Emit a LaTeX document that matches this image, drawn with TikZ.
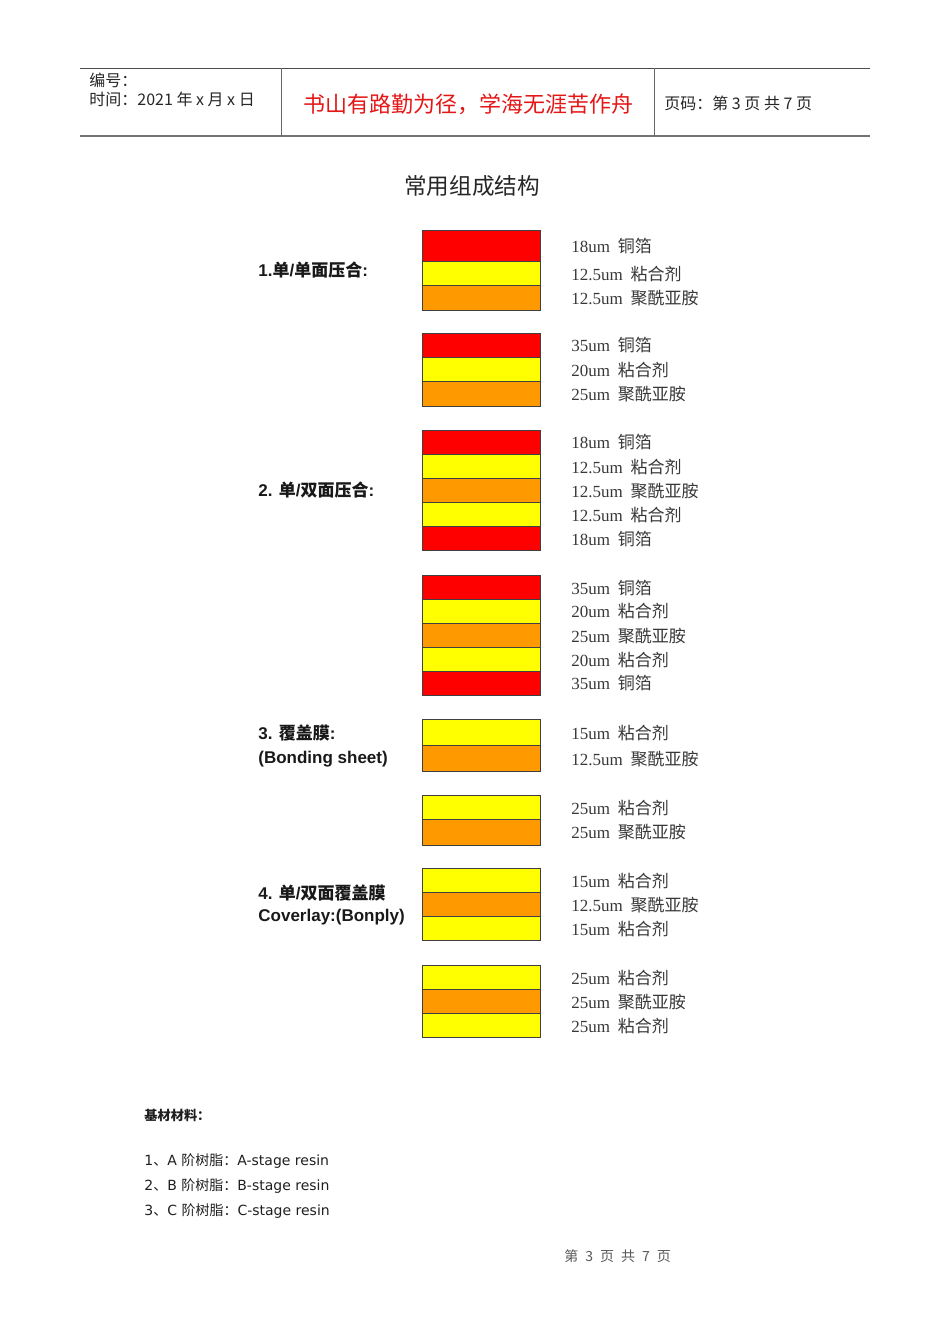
\documentclass[tikz,border=0pt]{standalone}
\usepackage{fontspec}
\setmainfont{DejaVu Sans}
\newfontfamily\cjk{Noto Sans CJK SC}
\newfontfamily\numfont{Liberation Serif}
\newfontfamily\arialfont{Liberation Sans}
\definecolor{cured}{RGB}{255,0,0}
\definecolor{glueyel}{RGB}{255,255,0}
\definecolor{filmorg}{RGB}{255,153,0}
\definecolor{hdred}{RGB}{228,22,22}
\newcommand{\hz}[1]{{\cjk #1}}
\newcommand{\lay}[2]{{\numfont #1}\hspace{0.45em}{\cjk #2}}
\newcommand{\gap}{\hspace{0.5em}}
\tikzset{
  copper/.style={draw=black!75,fill=cured,line width=0.4pt},
  glue/.style={draw=black!75,fill=glueyel,line width=0.4pt},
  film/.style={draw=black!75,fill=filmorg,line width=0.4pt},
  layertext/.style={anchor=west,inner sep=0pt,text=black!78,font=\fontsize{8.5}{10}\selectfont},
  grouptext/.style={anchor=west,inner sep=0pt,text=black!90,font=\arialfont\bfseries\fontsize{8.5}{10}\selectfont},
  headtext/.style={anchor=west,inner sep=0pt,text=black!85,font=\cjk\fontsize{8}{9}\selectfont},
  listtext/.style={anchor=west,inner sep=0pt,text=black!88,font=\fontsize{7}{8}\selectfont}
}
\begin{document}
\begin{tikzpicture}[x=0.5pt,y=-0.5pt]
\useasboundingbox (0,0) rectangle (950,1344);

% header
\draw[black!70,line width=0.5pt] (80,68) -- (870,68);
\draw[black!55,line width=1pt] (80,136) -- (870,136);
\draw[black!60,line width=0.4pt] (281,68) -- (281,136);
\draw[black!60,line width=0.4pt] (654,68) -- (654,136);
\node(no) at (89,80) [headtext] {编号：};
\node(date) at (89,99) [headtext] {时间：2021 年 x 月 x 日};
\node(motto) at (468,104) [inner sep=0pt,text=hdred,font=\cjk\fontsize{11}{13}\selectfont] {书山有路勤为径，学海无涯苦作舟};
\node(pg) at (664,103) [headtext] {页码：第 3 页 共 7 页};

% title
\node(title) at (472,186) [inner sep=0pt,text=black!85,font=\cjk\fontsize{11.3}{13}\selectfont] {常用组成结构};

% group labels
\node(g1) at (258,270) [grouptext] {1.\hz{单}/\hz{单面压合}:};
\node(g2) at (258,490) [grouptext] {2. \hz{单}/\hz{双面压合}:};
\node(g3) at (258,733) [grouptext] {3. \hz{覆盖膜}:};
\node(g3b) at (258,759) [grouptext] {(Bonding sheet)};
\node(g4) at (258,893) [grouptext] {4. \hz{单}/\hz{双面覆盖膜}};
\node(g4b) at (258,917) [grouptext] {Coverlay:(Bonply)};

% stack 1
\draw[copper] (422,230) rectangle (540,261);
\draw[glue] (422,261) rectangle (540,285);
\draw[film] (422,285) rectangle (540,310);
\node(a1) at (571,246) [layertext] {\lay{18um}{铜箔}};
\node(a2) at (571,274) [layertext] {\lay{12.5um}{粘合剂}};
\node(a3) at (571,298) [layertext] {\lay{12.5um}{聚酰亚胺}};

% stack 2
\draw[copper] (422,333) rectangle (540,357);
\draw[glue] (422,357) rectangle (540,381);
\draw[film] (422,381) rectangle (540,406);
\node(b1) at (571,345) [layertext] {\lay{35um}{铜箔}};
\node(b2) at (571,370) [layertext] {\lay{20um}{粘合剂}};
\node(b3) at (571,394) [layertext] {\lay{25um}{聚酰亚胺}};

% stack 3
\draw[copper] (422,430) rectangle (540,454);
\draw[glue] (422,454) rectangle (540,478);
\draw[film] (422,478) rectangle (540,502);
\draw[glue] (422,502) rectangle (540,526);
\draw[copper] (422,526) rectangle (540,550);
\node(c1) at (571,442) [layertext] {\lay{18um}{铜箔}};
\node(c2) at (571,467) [layertext] {\lay{12.5um}{粘合剂}};
\node(c3) at (571,491) [layertext] {\lay{12.5um}{聚酰亚胺}};
\node(c4) at (571,515) [layertext] {\lay{12.5um}{粘合剂}};
\node(c5) at (571,539) [layertext] {\lay{18um}{铜箔}};

% stack 4
\draw[copper] (422,575) rectangle (540,599);
\draw[glue] (422,599) rectangle (540,623);
\draw[film] (422,623) rectangle (540,647);
\draw[glue] (422,647) rectangle (540,671);
\draw[copper] (422,671) rectangle (540,695);
\node(d1) at (571,588) [layertext] {\lay{35um}{铜箔}};
\node(d2) at (571,611) [layertext] {\lay{20um}{粘合剂}};
\node(d3) at (571,636) [layertext] {\lay{25um}{聚酰亚胺}};
\node(d4) at (571,660) [layertext] {\lay{20um}{粘合剂}};
\node(d5) at (571,683) [layertext] {\lay{35um}{铜箔}};

% stack 5
\draw[glue] (422,719) rectangle (540,745);
\draw[film] (422,745) rectangle (540,771);
\node(e1) at (571,733) [layertext] {\lay{15um}{粘合剂}};
\node(e2) at (571,759) [layertext] {\lay{12.5um}{聚酰亚胺}};

% stack 6
\draw[glue] (422,795) rectangle (540,819);
\draw[film] (422,819) rectangle (540,845);
\node(f1) at (571,808) [layertext] {\lay{25um}{粘合剂}};
\node(f2) at (571,832) [layertext] {\lay{25um}{聚酰亚胺}};

% stack 7
\draw[glue] (422,868) rectangle (540,892);
\draw[film] (422,892) rectangle (540,916);
\draw[glue] (422,916) rectangle (540,940);
\node(h1) at (571,881) [layertext] {\lay{15um}{粘合剂}};
\node(h2) at (571,905) [layertext] {\lay{12.5um}{聚酰亚胺}};
\node(h3) at (571,929) [layertext] {\lay{15um}{粘合剂}};

% stack 8
\draw[glue] (422,965) rectangle (540,989);
\draw[film] (422,989) rectangle (540,1013);
\draw[glue] (422,1013) rectangle (540,1037);
\node(k1) at (571,978) [layertext] {\lay{25um}{粘合剂}};
\node(k2) at (571,1002) [layertext] {\lay{25um}{聚酰亚胺}};
\node(k3) at (571,1026) [layertext] {\lay{25um}{粘合剂}};

% base materials
\node(base) at (144,1115) [listtext,font=\cjk\bfseries\fontsize{6.6}{8}\selectfont] {基材材料：};
\node(r1) at (144,1161) [listtext] {1\hz{、}A \hz{阶树脂：}A-stage resin};
\node(r2) at (144,1186) [listtext] {2\hz{、}B \hz{阶树脂：}B-stage resin};
\node(r3) at (144,1211) [listtext] {3\hz{、}C \hz{阶树脂：}C-stage resin};

% footer
\node(foot) at (564,1256) [listtext,text=black!65,font=\cjk\fontsize{7}{8}\selectfont] {第\gap 3\gap 页\gap 共\gap 7\gap 页};

\end{tikzpicture}
\end{document}
